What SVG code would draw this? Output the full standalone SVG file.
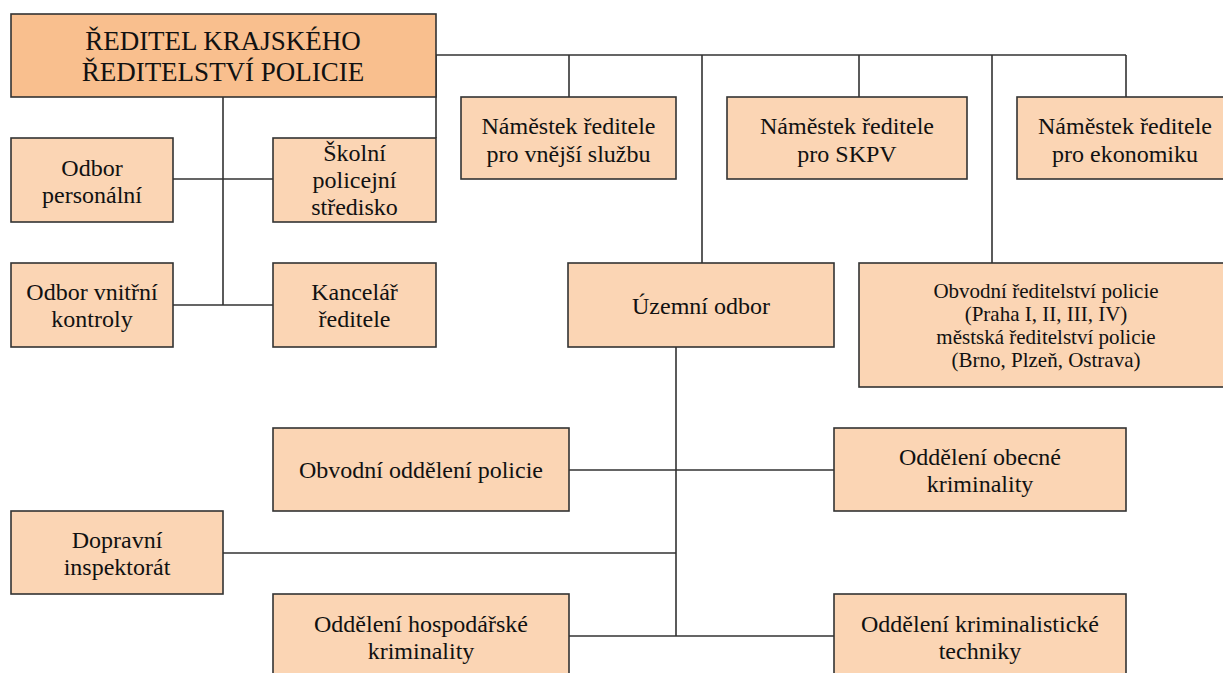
<svg xmlns="http://www.w3.org/2000/svg" width="1223" height="673" viewBox="0 0 1223 673">
<style>
.box{fill:#FBD5B4;stroke:#333;stroke-width:1.6}
.top{fill:#F9BF8E;stroke:#333;stroke-width:1.6}
.ln{stroke:#333;stroke-width:1.6;fill:none}
.t{fill:#111;text-anchor:middle;font-size:24px}
.big{font-size:27px}
.sm{font-size:21px}
</style>
<rect width="1223" height="673" fill="#fff"/>
<g id="connectors">
<path class="ln" d="M436 55H1126M436 55V138M569 55V97M702 55V263M859 55V97M992 55V263M1126 55V97"/>
<path class="ln" d="M223 97V305M173 179H273M173 305H273"/>
<path class="ln" d="M676 347V636M569 470H834M223 553H676M569 636H834"/>
</g>
<g class="t" font-family="'Liberation Serif', 'Times New Roman', Times, serif">
<g id="n-reditel"><rect class="top" x="11" y="14" width="425" height="83"/><text class="big" x="223" y="50">ŘEDITEL KRAJSKÉHO</text><text class="big" x="223" y="81">ŘEDITELSTVÍ POLICIE</text></g>
<g id="n-personalni"><rect class="box" x="11" y="138" width="162" height="84"/><text x="92" y="176">Odbor</text><text x="92" y="203">personální</text></g>
<g id="n-skolni"><rect class="box" x="273" y="138" width="163" height="84"/><text x="354.5" y="161">Školní</text><text x="354.5" y="188">policejní</text><text x="354.5" y="215">středisko</text></g>
<g id="n-vnitrni"><rect class="box" x="11" y="263" width="162" height="84"/><text x="92" y="300">Odbor vnitřní</text><text x="92" y="327">kontroly</text></g>
<g id="n-kancelar"><rect class="box" x="273" y="263" width="163" height="84"/><text x="354.5" y="300">Kancelář</text><text x="354.5" y="327">ředitele</text></g>
<g id="n-nam1"><rect class="box" x="461" y="97" width="215" height="82"/><text x="568.5" y="134">Náměstek ředitele</text><text x="568.5" y="162">pro vnější službu</text></g>
<g id="n-nam2"><rect class="box" x="727" y="97" width="240" height="82"/><text x="847" y="134">Náměstek ředitele</text><text x="847" y="162">pro SKPV</text></g>
<g id="n-nam3"><rect class="box" x="1017" y="97" width="216" height="82"/><text x="1125" y="134">Náměstek ředitele</text><text x="1125" y="162">pro ekonomiku</text></g>
<g id="n-uzemni"><rect class="box" x="568" y="263" width="266" height="84"/><text x="701" y="314">Územní odbor</text></g>
<g id="n-obvodni-reditelstvi"><rect class="box" x="859" y="263" width="374" height="124"/><text class="sm" x="1046" y="298">Obvodní ředitelství policie</text><text class="sm" x="1046" y="321">(Praha I, II, III, IV)</text><text class="sm" x="1046" y="344">městská ředitelství policie</text><text class="sm" x="1046" y="367">(Brno, Plzeň, Ostrava)</text></g>
<g id="n-obvodni-oddeleni"><rect class="box" x="273" y="428" width="296" height="83"/><text x="421" y="478">Obvodní oddělení policie</text></g>
<g id="n-obecne"><rect class="box" x="834" y="428" width="292" height="83"/><text x="980" y="465">Oddělení obecné</text><text x="980" y="492">kriminality</text></g>
<g id="n-dopravni"><rect class="box" x="11" y="511" width="212" height="83"/><text x="117" y="548">Dopravní</text><text x="117" y="575">inspektorát</text></g>
<g id="n-hospodarske"><rect class="box" x="273" y="594" width="296" height="84"/><text x="421" y="632">Oddělení hospodářské</text><text x="421" y="659">kriminality</text></g>
<g id="n-kriminalisticke"><rect class="box" x="834" y="594" width="292" height="84"/><text x="980" y="632">Oddělení kriminalistické</text><text x="980" y="659">techniky</text></g>
</g>
</svg>
